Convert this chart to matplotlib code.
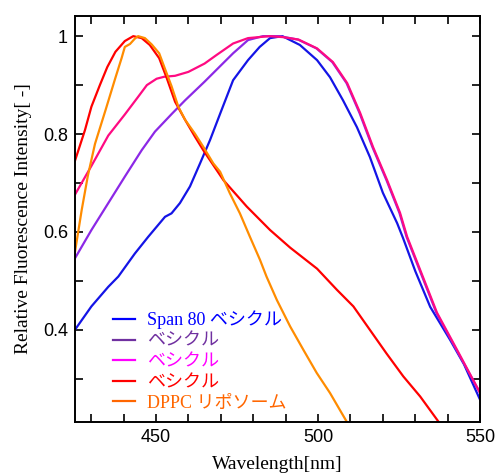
import matplotlib.pyplot as plt
from matplotlib.lines import Line2D
from matplotlib.font_manager import FontProperties

# wavelength [nm] / relative intensity
span80_x = [425, 430.1, 435.3, 438.4, 443.5, 447.6, 452.8, 454.8, 457.4, 460.5, 463.6, 466.7, 470, 473.8, 478.4,
            482, 485.2, 489, 494.4, 499.7, 503.7, 507.7, 512, 516, 520, 524.4, 526.2, 530, 534.6, 540.7, 545, 550]
span80_y = [0.400, 0.448, 0.488, 0.509, 0.556, 0.590, 0.631, 0.638, 0.659, 0.693, 0.740, 0.788, 0.845, 0.910, 0.951,
            0.978, 0.996, 1.000, 0.982, 0.951, 0.916, 0.869, 0.814, 0.753, 0.680, 0.618, 0.588, 0.520, 0.447, 0.380, 0.330, 0.257]

ves1_x = [425, 430.1, 435.3, 440.4, 445.6, 449.7, 455, 459, 465, 470, 473.8, 478.4, 483, 488, 493.8,
          499.5, 504.4, 508.8, 512.8, 516.8, 521.1, 525.1, 527.3, 536.5, 542.7, 550]
ves1_y = [0.546, 0.604, 0.659, 0.713, 0.767, 0.805, 0.842, 0.869, 0.907, 0.940, 0.965, 0.992, 1.000, 1.000, 0.993,
          0.975, 0.947, 0.904, 0.843, 0.773, 0.706, 0.639, 0.590, 0.435, 0.359, 0.271]

ves2_x = [425, 430.1, 435.3, 440.4, 444.5, 447.2, 450.2, 452.5, 455.9, 460, 465, 468.8, 473.8, 478.4, 485,
          489.2, 494, 499.7, 504.6, 509, 513, 517, 521.3, 525.3, 527.5, 536.7, 542.9, 550]
ves2_y = [0.676, 0.735, 0.797, 0.840, 0.876, 0.900, 0.913, 0.917, 0.919, 0.927, 0.944, 0.962, 0.985, 0.996, 1.000,
          0.998, 0.993, 0.975, 0.947, 0.904, 0.843, 0.773, 0.706, 0.639, 0.590, 0.435, 0.359, 0.271]

ves3_x = [425, 428.1, 430.1, 432.7, 435, 437.5, 440.4, 443, 445.6, 448.1, 451, 453.3, 455.9, 459, 462, 464.6, 470.8,
          478, 485.2, 491.4, 499.7, 505.8, 510.9, 516, 521.1, 526.3, 531.5, 537.1, 539]
ves3_y = [0.745, 0.808, 0.856, 0.900, 0.937, 0.968, 0.990, 1.000, 0.996, 0.982, 0.955, 0.915, 0.866, 0.829, 0.795, 0.767, 0.706,
          0.652, 0.604, 0.568, 0.525, 0.482, 0.448, 0.400, 0.352, 0.305, 0.264, 0.213, 0.195]

dppc_x = [425, 427.1, 429, 431.2, 434.5, 437.5, 439.4, 440.4, 442, 443.5, 444.5, 446.6, 448.7, 451, 452.8, 454.8,
          456.9, 459, 462, 464.6, 467.7, 469.8, 472.8, 475.9, 479, 482.1, 484.1, 487.3, 491.4, 495.5, 499.6, 503.7,
          508.8, 510.5]
dppc_y = [0.558, 0.645, 0.715, 0.780, 0.850, 0.915, 0.955, 0.978, 0.984, 0.995, 1.000, 0.996, 0.983, 0.965, 0.933, 0.898,
          0.856, 0.829, 0.801, 0.774, 0.740, 0.723, 0.679, 0.638, 0.590, 0.543, 0.509, 0.461, 0.407, 0.359, 0.312, 0.271,
          0.213, 0.190]

labels = ['Span 80 ベシクル', 'ベシクル', 'ベシクル', 'ベシクル', 'DPPC リポソーム']
line_colors = ['#1414e6', '#8c28e6', '#ff0a82', '#ff0000', '#ff8c00']
legend_colors = ['#0000ff', '#7030a0', '#ff00ff', '#ff0000', '#ff6600']

fig = plt.figure(figsize=(4.96, 4.73), dpi=100)
ax = fig.add_axes([0.151, 0.108, 0.817, 0.858])

ax.plot(span80_x, span80_y, color=line_colors[0], lw=1.6)
ax.plot(ves1_x, ves1_y, color=line_colors[1], lw=1.6)
ax.plot(ves2_x, ves2_y, color=line_colors[2], lw=1.6)
ax.plot(ves3_x, ves3_y, color=line_colors[3], lw=1.6)
ax.plot(dppc_x, dppc_y, color=line_colors[4], lw=1.6)

ax.set_xlim(425, 550)
ax.set_ylim(0.212, 1.041)
ax.set_xticks([450, 500, 550])
ax.set_xticks(range(430, 550, 10), minor=True)
ax.set_yticks([0.4, 0.6, 0.8, 1.0])
ax.set_yticklabels(['0.4', '0.6', '0.8', '1'])
ax.set_yticks([0.3, 0.5, 0.7, 0.9], minor=True)
ax.tick_params(which='both', direction='in', top=True, right=True, length=6, width=1.2,
               labelsize=13, pad=5)
for lab in ax.get_xticklabels() + ax.get_yticklabels():
    lab.set_fontfamily('Liberation Sans')
for s in ax.spines.values():
    s.set_linewidth(1.4)

ax.set_xlabel('Wavelength[nm]', fontfamily='Liberation Serif', fontsize=14, labelpad=7)
ax.set_ylabel('Relative Fluorescence Intensity[ -]', fontfamily='Liberation Serif', fontsize=14, labelpad=8)

handles = [Line2D([], [], color=c, lw=1.6) for c in legend_colors]
leg = ax.legend(handles, labels, loc='lower left', bbox_to_anchor=(0.094, 0.025), frameon=False,
                prop=FontProperties(family=['Liberation Serif', 'Noto Sans CJK JP'], size=13),
                handlelength=1.2, handletextpad=0.66, labelspacing=0.2, borderpad=0, borderaxespad=0)
for t, c in zip(leg.get_texts(), legend_colors):
    t.set_color(c)

fig.savefig('out.png', dpi=100)
